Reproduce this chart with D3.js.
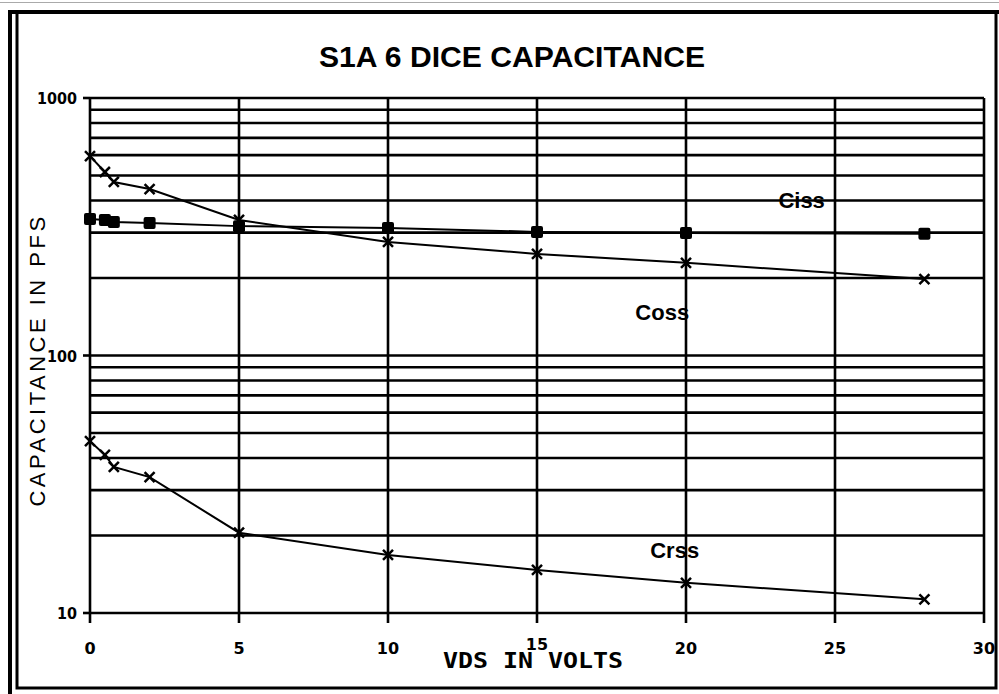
<!DOCTYPE html>
<html>
<head>
<meta charset="utf-8">
<script src="https://cdnjs.cloudflare.com/ajax/libs/d3/7.8.5/d3.min.js"></script>
<style>
  body { margin: 0; background: #fff; }
  svg { display: block; }
</style>
</head>
<body>
<script>
var vds = [0, 0.5, 0.8, 2, 5, 10, 15, 20, 28];
var ciss = [339, 336, 330, 327, 318, 313, 302, 299, 297];
var coss = [595, 516, 472, 443, 336, 276, 248, 229, 198];
var crss = [46.5, 41.1, 36.9, 33.7, 20.5, 16.8, 14.7, 13.1, 11.3];

var xTicks = [0, 5, 10, 15, 20, 25, 30];
var yMajor = [10, 100, 1000];
var yMinor = [20, 30, 40, 50, 60, 70, 80, 90, 200, 300, 400, 500, 600, 700, 800, 900];

var seriesLabels = [
  {name: "Ciss", x: 23.1, v: 374},
  {name: "Coss", x: 18.3, v: 137},
  {name: "Crss", x: 18.8, v: 16.4}
];

var W = 999, H = 694;

var svg = d3.select("body").append("svg")
    .attr("width", W)
    .attr("height", H);

var x = d3.scaleLinear().domain([0, 30]).range([90, 984]);
var y = d3.scaleLog().domain([10, 1000]).range([613, 98]);

// frame
svg.append("line").attr("x1", 0).attr("x2", W).attr("y1", 2.5).attr("y2", 2.5)
    .attr("stroke", "#aaa").attr("stroke-width", 1);
svg.append("rect")
    .attr("x", 17).attr("y", 12).attr("width", 979).attr("height", 676)
    .attr("fill", "none").attr("stroke", "#000").attr("stroke-width", 3);
svg.append("line").attr("x1", 8).attr("x2", W).attr("y1", 12).attr("y2", 12)
    .attr("stroke", "#000").attr("stroke-width", 4);
svg.append("line").attr("x1", 10).attr("x2", 10).attr("y1", 10).attr("y2", H)
    .attr("stroke", "#000").attr("stroke-width", 4);

// grid
var grid = svg.append("g").attr("stroke", "#000").attr("stroke-width", 2.6);
grid.selectAll(".h").data(yMinor.concat(yMajor)).enter().append("line")
    .attr("x1", x(0)).attr("x2", x(30))
    .attr("y1", d => y(d)).attr("y2", d => y(d));
grid.selectAll(".v").data(xTicks).enter().append("line")
    .attr("x1", d => x(d)).attr("x2", d => x(d))
    .attr("y1", y(1000)).attr("y2", y(10) + 10);
grid.selectAll(".yt").data(yMajor).enter().append("line")
    .attr("x1", x(0) - 7).attr("x2", x(0))
    .attr("y1", d => y(d)).attr("y2", d => y(d));

// tick labels
svg.selectAll(".xl").data(xTicks).enter().append("text")
    .attr("x", d => x(d)).attr("y", d => d == 15 ? 650 : 654)
    .attr("text-anchor", "middle")
    .style("font-family", "DejaVu Sans")
    .style("font-weight", "bold")
    .style("font-size", "16px")
    .text(d => d);
svg.selectAll(".yl").data(yMajor).enter().append("text")
    .attr("x", 77).attr("y", d => y(d) + 6)
    .attr("text-anchor", "end")
    .style("font-family", "DejaVu Sans")
    .style("font-weight", "bold")
    .style("font-size", "15px")
    .attr("textLength", d => String(d).length * 10)
    .attr("lengthAdjust", "spacingAndGlyphs")
    .text(d => d);

// titles
svg.append("text")
    .attr("x", 512).attr("y", 67)
    .attr("text-anchor", "middle")
    .attr("textLength", 386).attr("lengthAdjust", "spacingAndGlyphs")
    .style("font-family", "Liberation Sans")
    .style("font-weight", "bold")
    .style("font-size", "29px")
    .text("S1A 6 DICE CAPACITANCE");

svg.append("text")
    .attr("x", 443).attr("y", 668)
    .attr("textLength", 180).attr("lengthAdjust", "spacingAndGlyphs")
    .style("font-family", "DejaVu Sans Mono")
    .style("font-weight", "bold")
    .style("font-size", "22px")
    .text("VDS IN VOLTS");

svg.append("text")
    .attr("transform", "translate(45,360) rotate(-90)")
    .attr("text-anchor", "middle")
    .style("font-family", "Liberation Sans")
    .style("font-size", "22px")
    .style("letter-spacing", "3.5px")
    .text("CAPACITANCE IN PFS");

// series
var line = d3.line().x(d => x(d[0])).y(d => y(d[1]));
var series = [
  {vals: ciss, mark: "square"},
  {vals: coss, mark: "x"},
  {vals: crss, mark: "x"}
];

series.forEach(function(s) {
  var pts = vds.map((v, i) => [v, s.vals[i]]);
  svg.append("path")
      .attr("d", line(pts))
      .attr("fill", "none")
      .attr("stroke", "#000")
      .attr("stroke-width", 2);
  var g = svg.append("g");
  if (s.mark == "square") {
    g.selectAll("rect").data(pts).enter().append("rect")
        .attr("x", d => x(d[0]) - 6).attr("y", d => y(d[1]) - 6)
        .attr("width", 12).attr("height", 12).attr("rx", 2)
        .attr("fill", "#000");
  } else {
    g.selectAll("path").data(pts).enter().append("path")
        .attr("d", function(d) {
          var cx = x(d[0]), cy = y(d[1]), r = 5;
          return "M" + (cx - r) + "," + (cy - r) + "L" + (cx + r) + "," + (cy + r) +
                 "M" + (cx - r) + "," + (cy + r) + "L" + (cx + r) + "," + (cy - r);
        })
        .attr("stroke", "#000").attr("stroke-width", 2.5);
  }
});

svg.selectAll(".sl").data(seriesLabels).enter().append("text")
    .attr("x", d => x(d.x)).attr("y", d => y(d.v))
    .style("font-family", "Liberation Sans")
    .style("font-weight", "bold")
    .style("font-size", "22px")
    .text(d => d.name);
</script>
</body>
</html>
